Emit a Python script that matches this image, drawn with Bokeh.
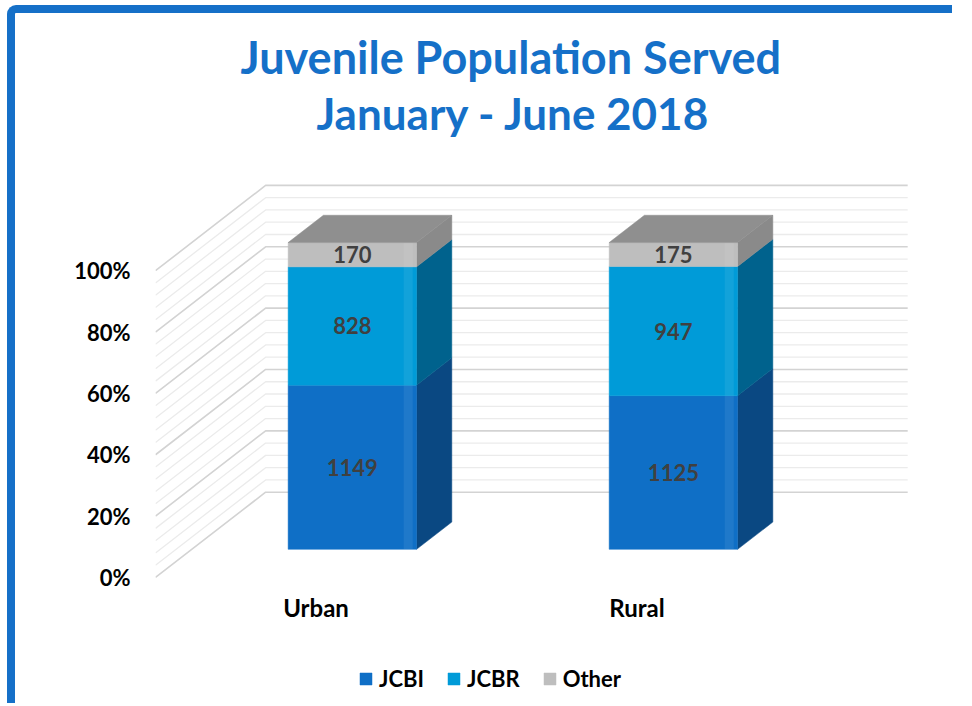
import numpy as np
from bokeh.plotting import figure
from bokeh.models import (Range1d, FixedTicker, PrintfTickFormatter, Legend, LegendItem,
                          Title, ColumnDataSource)
from bokeh.core.properties import value
from bokeh.embed import file_html
from bokeh.resources import INLINE

# ---- data ----
categories = ["Urban", "Rural"]
series_names = ["JCBI", "JCBR", "Other"]
jcbi = [1149, 1125]
jcbr = [828, 947]
other = [170, 175]
y_ticks = [0, 20, 40, 60, 80, 100]
title_line1 = "Juvenile Population Served"
title_line2 = "January - June 2018"

# ---- style ----
FONT = "Lato"
BLUE = "#1570C8"
front_colors = ["#0F6FC6", "#009BD8", "#BEBEBE"]
side_colors = ["#0A4882", "#00628D", "#8A8A8A"]
top_color = "#8F8F8F"

# pseudo-3D projection parameters (data units)
DX, DY = 0.343, 27.8          # full depth shift of the back wall
Z0, Z1 = 0.33, 0.65           # bar front / back depth
HALF = 0.2                    # half bar width

def proj(x, y, z):
    return x + z * DX, y + z * DY

p = figure(frame_width=757, frame_height=514, output_backend="svg", toolbar_location=None,
           x_range=Range1d(0, 2.358), y_range=Range1d(-38.15, 129.4),
           min_border_left=140, min_border_right=40, min_border_top=167,
           min_border_bottom=9, title=None,
           styles={"margin-left": "7px", "margin-top": "5px",
                   "border-left": f"8px solid {BLUE}", "border-top": f"8px solid {BLUE}",
                   "border-top-left-radius": "9px"})
p.outline_line_color = None
p.xgrid.visible = False
p.ygrid.visible = False

# ---- walls (side wall + back wall grid lines) ----
wall_pcts = np.arange(0, 101, 4)
maj_xs, maj_ys, min_xs, min_ys = [], [], [], []
for v in wall_pcts:
    x0, y0 = proj(0, v, 0)
    x1, y1 = proj(0, v, 1)
    x2, y2 = proj(len(categories), v, 1)
    if v % 20 == 0:
        maj_xs.append([x0, x1, x2]); maj_ys.append([y0, y1, y2])
    else:
        min_xs.append([x0, x1, x2]); min_ys.append([y0, y1, y2])
p.multi_line(min_xs, min_ys, line_color="#EBEBEB", line_width=1.3)
p.multi_line(maj_xs, maj_ys, line_color="#D3D3D3", line_width=1.6)

# ---- stacked 100% bars ----
vals = np.array([jcbi, jcbr, other], dtype=float)
totals = vals.sum(axis=0)
pcts = vals / totals * 100
tops = np.cumsum(pcts, axis=0)
bots = tops - pcts
centers = np.arange(len(categories)) + 0.5

legend_items = []
for i, name in enumerate(series_names):
    sx, sy = [], []
    for j, c in enumerate(centers):
        pts = [proj(c + HALF, bots[i, j], Z0), proj(c + HALF, bots[i, j], Z1),
               proj(c + HALF, tops[i, j], Z1), proj(c + HALF, tops[i, j], Z0)]
        sx.append([q[0] for q in pts]); sy.append([q[1] for q in pts])
    p.patches(sx, sy, fill_color=side_colors[i], line_color=side_colors[i], line_width=0.5)
    src = ColumnDataSource(dict(
        left=centers - HALF + Z0 * DX, right=centers + HALF + Z0 * DX,
        bottom=bots[i] + Z0 * DY, top=tops[i] + Z0 * DY))
    r = p.quad(left="left", right="right", bottom="bottom", top="top", source=src,
               fill_color=front_colors[i], line_color=front_colors[i], line_width=0.5)
    # subtle bevel highlight near the right edge of the front face
    p.quad(left=centers + HALF - 0.04 + Z0 * DX, right=centers + HALF - 0.012 + Z0 * DX,
           bottom=bots[i] + Z0 * DY, top=tops[i] + Z0 * DY,
           fill_color="white", fill_alpha=0.07, line_color=None)
    legend_items.append(LegendItem(label=name, renderers=[r]))

tx, ty = [], []
for j, c in enumerate(centers):
    t = tops[-1, j]
    pts = [proj(c - HALF, t, Z0), proj(c + HALF, t, Z0), proj(c + HALF, t, Z1), proj(c - HALF, t, Z1)]
    tx.append([q[0] for q in pts]); ty.append([q[1] for q in pts])
p.patches(tx, ty, fill_color=top_color, line_color=top_color, line_width=0.5)

lx, ly, lt = [], [], []
for i in range(len(series_names)):
    for j, c in enumerate(centers):
        x, y = proj(c, (bots[i, j] + tops[i, j]) / 2, Z0)
        lx.append(x); ly.append(y); lt.append(str(int(vals[i, j])))
p.text(x=lx, y=ly, text=lt, text_font=value(FONT), text_font_style="bold",
       text_font_size="22px", text_color="#404040", text_align="center",
       text_baseline="middle")

# ---- axes ----
p.yaxis.ticker = FixedTicker(ticks=y_ticks)
p.yaxis.formatter = PrintfTickFormatter(format="%d%%")
p.xaxis.ticker = FixedTicker(ticks=list(centers))
p.xaxis.major_label_overrides = {float(c): cat for c, cat in zip(centers, categories)}
for ax in (p.xaxis[0], p.yaxis[0]):
    ax.axis_line_color = None
    ax.major_tick_line_color = None
    ax.minor_tick_line_color = None
    ax.major_tick_out = 0
    ax.major_tick_in = 0
    ax.minor_tick_out = 0
    ax.minor_tick_in = 0
    ax.major_label_text_font = FONT
    ax.major_label_text_font_style = "bold"
    ax.major_label_text_color = "#000000"
p.yaxis.major_label_text_font_size = "22px"
p.xaxis.major_label_text_font_size = "24px"
p.yaxis.major_label_standoff = 25
p.xaxis.fixed_location = -11.74
p.xaxis.major_label_standoff = -20

# ---- legend (inside the frame, below the category labels) ----
legend = Legend(items=legend_items, orientation="horizontal", location=(203, 2),
                label_text_font=FONT, label_text_font_style="bold",
                label_text_font_size="22px", label_text_color="#000000",
                glyph_width=15, glyph_height=15, label_standoff=6, spacing=22,
                padding=10, margin=0,
                border_line_color=None, background_fill_alpha=0)
p.add_layout(legend, "center")

# ---- titles (stacked from the frame outward) ----
p.add_layout(Title(text=".", text_font_size="1px", text_color="white", standoff=39), "above")
p.add_layout(Title(text=title_line2, align="left", text_font=FONT, text_font_style="bold",
                   text_font_size="44px", text_color=BLUE, offset=161, standoff=0), "above")
p.add_layout(Title(text=title_line1, align="left", text_font=FONT, text_font_style="bold",
                   text_font_size="45px", text_color=BLUE, offset=85, standoff=2), "above")

open("out.html", "w").write(file_html(p, INLINE))
